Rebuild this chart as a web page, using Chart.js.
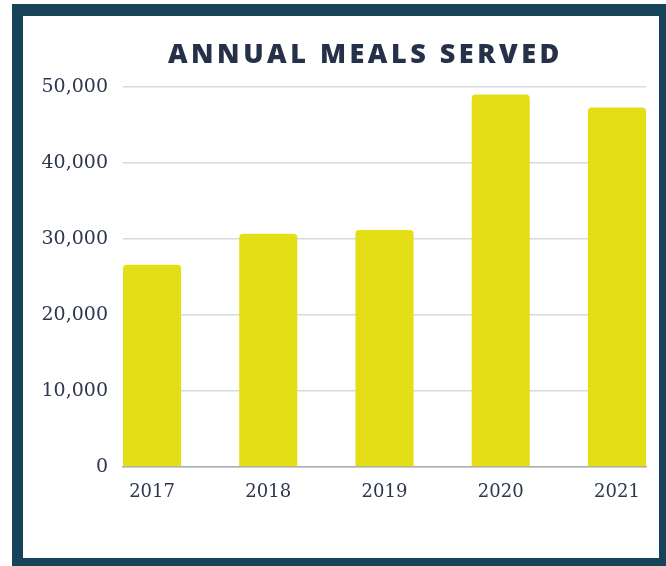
<!DOCTYPE html>
<html>
<head>
<meta charset="utf-8">
<script src="https://cdn.jsdelivr.net/npm/chart.js@4"></script>
<style>
    html, body { margin: 0; padding: 0; background: #fff; width: 666px; height: 566px; overflow: hidden; }
    .frame {
        position: absolute; left: 12px; top: 4px;
        width: 636px; height: 542px;
        border-style: solid; border-color: #17435a;
        border-width: 12px 7px 8px 11px;
        background: #fff;
    }
    .title {
        position: absolute; left: 168px; top: 39px;
        font-family: 'Open Sans', sans-serif; font-weight: 800;
        font-size: 27px; letter-spacing: 3.5px; line-height: 1;
        color: #253049; white-space: nowrap;
    }
    #wrap { position: absolute; left: 0; top: 0; width: 636px; height: 542px; }
</style>
</head>
<body>
<div class="frame">
    <div id="wrap"><canvas id="mealsChart"></canvas></div>
</div>
<div class="title">ANNUAL MEALS SERVED</div>

<script>
/* ── Data ────────────────────────────────────────────── */
const YEARS  = ['2017', '2018', '2019', '2020', '2021'];
const MEALS  = [26600, 30700, 31200, 49000, 47300];
const Y_TICKS = [0, 10000, 20000, 30000, 40000, 50000];

const YELLOW = '#e4de16';
const INK    = '#2e3650';
const GRID   = '#d6d9dd';
const AXIS   = '#a9adb3';

new Chart(document.getElementById('mealsChart'), {
    type: 'bar',
    data: {
        datasets: [{
            label: 'Meals served',
            data: YEARS.map((_, i) => ({ x: i, y: MEALS[i] })),
            backgroundColor: YELLOW,
            borderRadius: 4,
            borderSkipped: 'start',
            categoryPercentage: 1,
            barPercentage: 0.5,
        }]
    },
    options: {
        responsive: true,
        maintainAspectRatio: false,
        animation: false,
        layout: { padding: { top: 71, right: 13, left: 0, bottom: 0 } },
        plugins: {
            legend: { display: false },
            title: { display: false },
            tooltip: { enabled: false }
        },
        scales: {
            x: {
                type: 'linear',
                offset: false,
                min: -0.25,
                max: 4.25,
                afterBuildTicks: s => { s.ticks = YEARS.map((_, i) => ({ value: i })); },
                afterFit: s => { s.height = 91; },
                grid: { display: false, drawTicks: false, offset: false },
                border: { display: true, color: AXIS, width: 1.5 },
                ticks: {
                    padding: 15,
                    color: INK,
                    font: { family: "'DejaVu Serif', serif", size: 18 },
                    callback: v => YEARS[v]
                }
            },
            y: {
                min: 0,
                max: 50000,
                afterBuildTicks: s => { s.ticks = Y_TICKS.map(v => ({ value: v })); },
                afterFit: s => { s.width = 100; },
                grid: { color: GRID, lineWidth: 1.5, drawTicks: false },
                border: { display: false },
                ticks: {
                    padding: 15,
                    color: INK,
                    font: { family: "'DejaVu Serif', serif", size: 19 },
                    callback: v => v.toLocaleString('en-US')
                }
            }
        }
    }
});
</script>
</body>
</html>
